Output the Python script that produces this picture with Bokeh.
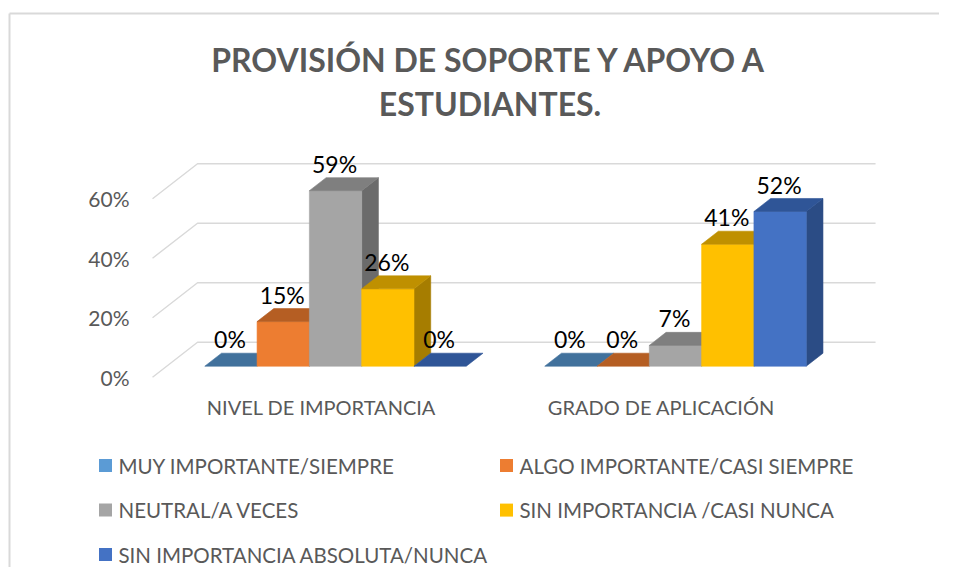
from bokeh.plotting import figure
from bokeh.models import (Range1d, LinearAxis, FixedTicker, PrintfTickFormatter,
                          CustomJSTickFormatter, ColumnDataSource)
from bokeh.core.properties import value
from bokeh.embed import file_html
from bokeh.resources import INLINE

# ---------------- data ----------------
TITLE_LINES = ["PROVISIÓN DE SOPORTE Y APOYO A", "ESTUDIANTES."]
CATEGORIES = ["NIVEL DE IMPORTANCIA", "GRADO DE APLICACIÓN"]
SERIES = ["MUY IMPORTANTE/SIEMPRE", "ALGO IMPORTANTE/CASI SIEMPRE",
          "NEUTRAL/A VECES", "SIN IMPORTANCIA /CASI NUNCA",
          "SIN IMPORTANCIA ABSOLUTA/NUNCA"]
VAL_MUY_IMPORTANTE = [0, 0]
VAL_ALGO_IMPORTANTE = [15, 0]
VAL_NEUTRAL = [59, 7]
VAL_SIN_IMPORTANCIA = [26, 41]
VAL_SIN_IMPORTANCIA_ABS = [0, 52]
Y_TICKS = [0, 20, 40, 60]

SERIES_VALUES = [VAL_MUY_IMPORTANTE, VAL_ALGO_IMPORTANTE, VAL_NEUTRAL,
                 VAL_SIN_IMPORTANCIA, VAL_SIN_IMPORTANCIA_ABS]

# ---------------- styles ----------------
FRONT = ["#5B9BD5", "#ED7D31", "#A5A5A5", "#FFC000", "#4472C4"]
TOP = ["#41719C", "#B55E23", "#7F7F7F", "#BF9000", "#2F5597"]
SIDE = ["#3A6690", "#9E5220", "#6B6B6B", "#A67D00", "#2B4C85"]
GRID = "#D9D9D9"
TXT = "#595959"
FONT = "Lato"

W, H = 939, 567
PX_X = 52.3          # pixels per x unit (one bar slot)
PX_Y = 2.975         # pixels per percent
X0_PX = 320.9        # px of front-plane x = 0
Y0_PX = 376.7        # px (from top) of front-plane y = 0
CAT_STEP = 6.5       # bar slots per category (5 bars + gap)
DEPTH_DX = 45 / PX_X
DEPTH_DY = 35 / PX_Y
F1, F2 = 0.314, 0.686  # bar front / back depth fractions
WALL_LEFT = -3.229
WALL_RIGHT = 9.735


def xd(px):
    return (px - X0_PX) / PX_X


def yd(py):
    return (Y0_PX - py) / PX_Y


p = figure(width=W, height=H, output_backend="svg", toolbar_location=None,
           x_range=Range1d(xd(0), xd(W)), y_range=Range1d(yd(H), yd(0)),
           x_axis_location=None, y_axis_location=None, min_border=0,
           background_fill_color="white", border_fill_color="white")
p.outline_line_color = None
p.grid.visible = False

# chart border (top and left)
p.segment(x0=[xd(9), xd(9)], y0=[yd(13), yd(13)], x1=[xd(W + 10), xd(9)], y1=[yd(13), yd(H + 10)],
          line_color=GRID, line_width=2)

# gridlines: side wall diagonals + back wall horizontals
gx, gy = [], []
for v in Y_TICKS:
    gx.append([WALL_LEFT, WALL_LEFT + DEPTH_DX, WALL_RIGHT + DEPTH_DX])
    gy.append([v, v + DEPTH_DY, v + DEPTH_DY])
p.multi_line(gx, gy, line_color=GRID, line_width=1.4)

# 3D bars, drawn left to right so later bars hide earlier side faces
xs, ys, cols = [], [], []
lx, ly, lt = [], [], []
f1x, f1y = F1 * DEPTH_DX, F1 * DEPTH_DY
f2x, f2y = F2 * DEPTH_DX, F2 * DEPTH_DY
for c in range(len(CATEGORIES)):
    for s, vals in enumerate(SERIES_VALUES):
        v = vals[c]
        cx = c * CAT_STEP + (s - 2)
        xl, xr = cx - 0.5, cx + 0.5
        if v > 0:
            xs.append([xr + f1x, xr + f2x, xr + f2x, xr + f1x])
            ys.append([f1y, f2y, v + f2y, v + f1y])
            cols.append(SIDE[s])
            xs.append([xl + f1x, xr + f1x, xr + f1x, xl + f1x])
            ys.append([f1y, f1y, v + f1y, v + f1y])
            cols.append(FRONT[s])
        xs.append([xl + f1x, xr + f1x, xr + f2x, xl + f2x])
        ys.append([v + f1y, v + f1y, v + f2y, v + f2y])
        cols.append(TOP[s])
        lx.append(cx + f1x)
        ly.append(v + f1y)
        lt.append(f"{v}%")

src = ColumnDataSource(dict(xs=xs, ys=ys, c=cols))
p.patches("xs", "ys", source=src, fill_color="c", line_color="c", line_width=0.6)

# data labels
p.text(lx, ly, text=lt, text_font=value(FONT), text_font_size="23px",
       text_color="#000000", text_align="center", text_baseline="middle",
       x_offset=-1, y_offset=-27)

# y axis on the front-left edge
yaxis = LinearAxis(fixed_location=WALL_LEFT, ticker=FixedTicker(ticks=Y_TICKS),
                   formatter=PrintfTickFormatter(format="%d%%"))
yaxis.axis_line_color = None
yaxis.major_tick_line_color = None
yaxis.minor_tick_line_color = None
yaxis.major_tick_out = 0
yaxis.major_tick_in = 0
yaxis.major_label_standoff = 23
yaxis.major_label_text_font = FONT
yaxis.major_label_text_font_size = "21px"
yaxis.major_label_text_color = TXT
p.add_layout(yaxis, "left")

# category axis on the front floor edge
xaxis = LinearAxis(fixed_location=0,
                   ticker=FixedTicker(ticks=[c * CAT_STEP for c in range(len(CATEGORIES))]),
                   formatter=CustomJSTickFormatter(args=dict(labels=CATEGORIES, step=CAT_STEP),
                                                   code="return labels[Math.round(tick/step)]"))
xaxis.axis_line_color = None
xaxis.major_tick_line_color = None
xaxis.minor_tick_line_color = None
xaxis.major_tick_out = 0
xaxis.major_tick_in = 0
xaxis.major_label_standoff = 18
xaxis.major_label_text_font = FONT
xaxis.major_label_text_font_size = "20px"
xaxis.major_label_text_color = TXT
p.add_layout(xaxis, "below")

# title
p.text([xd(489.5), xd(489.5)], [yd(58.8), yd(102.8)], text=TITLE_LINES,
       text_font=value(FONT), text_font_style="bold", text_font_size="32px",
       text_color=TXT, text_align="center", text_baseline="middle")

# legend (two columns, Excel style)
LEG_COL_PX = [105, 506]
LEG_ROW_PX = [465, 509.6, 554]
mx, my, mc, tx, ty = [], [], [], [], []
for i, name in enumerate(SERIES):
    col, row = i % 2, i // 2
    mx.append(xd(LEG_COL_PX[col]))
    my.append(yd(LEG_ROW_PX[row]))
    mc.append(FRONT[i])
    tx.append(xd(LEG_COL_PX[col] + 13))
    ty.append(yd(LEG_ROW_PX[row]))
p.scatter(mx, my, marker="square", size=13, fill_color=mc, line_color=None)
p.text(tx, ty, text=SERIES, text_font=value(FONT), text_font_size="20.5px",
       text_color=TXT, text_align="left", text_baseline="middle")

open("out.html", "w").write(file_html(p, INLINE))
